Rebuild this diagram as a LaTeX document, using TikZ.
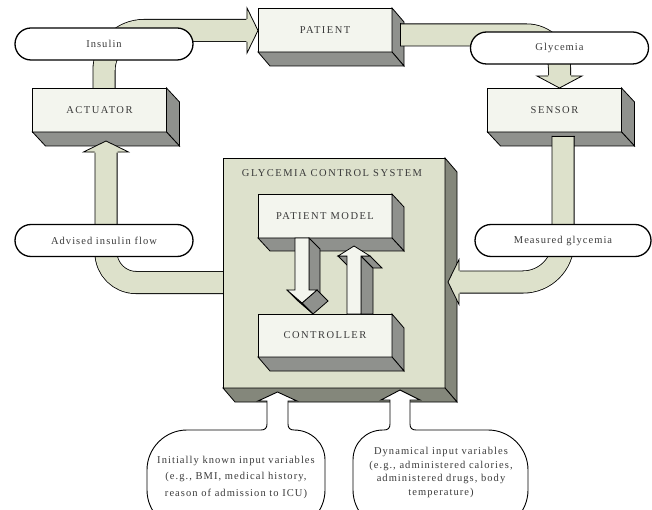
\documentclass[tikz,border=0pt]{standalone}
\usepackage{fontspec}
\setmainfont{Liberation Serif}[LetterSpace=10]
\newfontfamily\capsfont{Liberation Serif}[LetterSpace=14]
\usetikzlibrary{calc,shapes.misc,backgrounds}

\definecolor{frontcol}{HTML}{F3F5EE}
\definecolor{sidecol}{HTML}{8F918D}
\definecolor{bandcol}{HTML}{DDE1CB}
\definecolor{syscol}{HTML}{DDE1CC}
\definecolor{sysside}{HTML}{84877B}
\definecolor{txtcol}{HTML}{3A3A3A}

\tikzset{
  frontbox/.style={draw,line width=0.8pt,fill=frontcol,inner sep=0pt,outer sep=0pt,
    minimum width=134,minimum height=44,text=txtcol,font=\capsfont\fontsize{10.5}{12}\selectfont},
  face/.style={draw,line width=0.8pt,fill=sidecol},
  rim/.style={line width=0.8pt},
  pill/.style={rounded rectangle,draw,line width=1.3pt,fill=white,inner sep=0pt,outer sep=0pt,
    minimum width=178,minimum height=32,text=txtcol,font=\fontsize{10.5}{12}\selectfont},
  bandout/.style={line width=23pt,black},
  bandin/.style={line width=21.4pt,bandcol},
  bubble/.style={draw,line width=0.9pt,fill=white},
  bubtext/.style={align=center,text=txtcol,inner sep=0pt},
}

% right and bottom faces of a block
\newcommand\boxsides[3]{%
  \draw[face,fill=#2] (#1.north east) -- ++(#3) -- ($(#1.south east)+(#3)$) -- (#1.south east) -- cycle;
  \draw[face,fill=#2] (#1.south west) -- ++(#3) -- ($(#1.south east)+(#3)$) -- (#1.south east) -- cycle;}
% wide band with a thin border
\newcommand\band[2]{%
  \draw[bandout,rounded corners=#1] #2;
  \draw[bandin,rounded corners=#1] #2;}
% head of a wide band
\newcommand\bhead[3]{%
  \begin{scope}[shift={(#1)},rotate=#2]
    \fill[bandcol] (-0.7,-11.5) -- (0,-22.5) -- (#3,0) -- (0,22.5) -- (-0.7,11.5) -- cycle;
    \draw[rim] (0,-11.5) -- (0,-22.5) -- (#3,0) -- (0,22.5) -- (0,11.5);
  \end{scope}}

\begin{document}
\begin{tikzpicture}[x=1pt,y=-1pt]
\useasboundingbox (0,0) rectangle (652,510);
\clip (0,0) rectangle (652,510);

% glycemia control system
\node[frontbox,fill=syscol,minimum width=222,minimum height=230] (sys) at (334,273) {};
\boxsides{sys}{sysside}{12,14}
\node[text=txtcol,font=\capsfont\fontsize{10.5}{12}\selectfont] (systitle) at (332,173) {GLYCEMIA CONTROL SYSTEM};

% outer blocks
\node[frontbox] (pat) at (325,30) {PATIENT};
\boxsides{pat}{sidecol}{12,14}
\node[frontbox] (act) at (99.5,110) {ACTUATOR};
\boxsides{act}{sidecol}{13,14}
\node[frontbox] (sen) at (554.5,110) {SENSOR};
\boxsides{sen}{sidecol}{13,14}

% bands
\coordinate (a1) at ($(act.north)+(4.5,0)$);
\coordinate (a2) at ($(pat.west)+(-11,0.5)$);
\band{40}{(a1) |- (a2)}
\bhead{a2}{0}{11}
\coordinate (b1) at ($(pat.east)+(8,5)$);
\coordinate (b2) at ($(sen.north)+(5,-12)$);
\band{33}{(b1) -| (b2)}
\draw[rim] ($(b1)+(0,-11.5)$) -- ($(b1)+(0,11.5)$);
\bhead{b2}{-90}{12}
\coordinate (c1) at ($(sen.south)+(8.5,4)$);
\coordinate (c2) at ($(sys.east)+(14,9)$);
\band{40}{(c1) |- (c2)}
\draw[rim] ($(c1)+(-11.5,0)$) -- ($(c1)+(11.5,0)$);
\bhead{c2}{180}{11}
\coordinate (d1) at ($(sys.west)+(12,9.5)$);
\coordinate (d2) at ($(act.south)+(6.5,20)$);
\begin{scope}[on background layer]
  \band{30}{(d1) -| (d2)}
\end{scope}
\bhead{d2}{90}{11}

% labels on the bands
\node[pill] (ins) at (104,44) {Insulin};
\node[pill] (gly) at (559.5,48) {Glycemia};
\node[pill] (adv) at (104,240.5) {Advised insulin flow};
\node[pill,minimum width=176] (mea) at (563,240.5) {Measured glycemia};

% inner blocks
\node[frontbox] (mod) at (325,216) {PATIENT MODEL};
\boxsides{mod}{sidecol}{12,13}
\node[frontbox,minimum height=43] (ctl) at (325,335.5) {CONTROLLER};
\boxsides{ctl}{sidecol}{12,14}

% model -> controller
\begin{scope}[shift={(mod.south)}]
  \draw[face] (-16,0) -- (-5,11) -- (-5,63) -- (-16,52) -- cycle;
  \draw[face] (-8,52) -- (3,63) -- (-12,76) -- (-23,65) -- cycle;
  \draw[face] (-38,52) -- (-27,63) -- (-12,76) -- (-23,65) -- cycle;
  \draw[face,fill=frontcol] (-30,0) -- (-16,0) -- (-16,52) -- (-8,52) -- (-23,65) -- (-38,52) -- (-30,52) -- cycle;
\end{scope}
% controller -> model
\begin{scope}[shift={(ctl.north)}]
  \draw[face] (36,-58) -- (48,-46) -- (48,0) -- (36,0) -- cycle;
  \draw[face] (36,-58) -- (45,-58) -- (57,-46) -- (48,-46) -- cycle;
  \draw[face] (13,-58) -- (22,-58) -- (34,-46) -- (25,-46) -- cycle;
  \draw[face,fill=frontcol] (22,0) -- (22,-58) -- (13,-58) -- (29,-68) -- (45,-58) -- (36,-58) -- (36,0) -- cycle;
\end{scope}

% inputs
\draw[bubble] (267,401) -- (267,424) .. controls (267,428) and (265,430) .. (261,430)
  -- (187,430) .. controls (165,430) and (147,448) .. (147,470)
  -- (147,490) .. controls (147,512) and (165,530) .. (187,530)
  -- (285,530) .. controls (307,530) and (325,512) .. (325,490)
  -- (325,460) .. controls (325,443) and (311,430) .. (294,430)
  .. controls (290,430) and (288,428) .. (288,424)
  -- (288,401) -- (297,401) -- (277.5,392) -- (258,401) -- cycle;
\draw[bubble] (390,400) -- (390,424) .. controls (390,428) and (388,430) .. (384,430)
  -- (383,430) .. controls (366,430) and (353,443) .. (353,460)
  -- (353,490) .. controls (353,512) and (371,530) .. (393,530)
  -- (488,530) .. controls (510,530) and (528,512) .. (528,490)
  -- (528,470) .. controls (528,448) and (510,430) .. (488,430)
  -- (416,430) .. controls (412,430) and (410,428) .. (410,424)
  -- (410,400) -- (420,400) -- (400,390) -- (381,400) -- cycle;
\node[bubtext,font=\fontsize{10.5}{16.5}\selectfont] (known) at (236,477)
  {Initially known input variables\\(e.g., BMI, medical history,\\reason of admission to ICU)};
\node[bubtext,font=\fontsize{10.5}{13.7}\selectfont] (dyn) at (441,472.5)
  {Dynamical input variables\\(e.g., administered calories,\\administered drugs, body\\temperature)};
\end{tikzpicture}
\end{document}
